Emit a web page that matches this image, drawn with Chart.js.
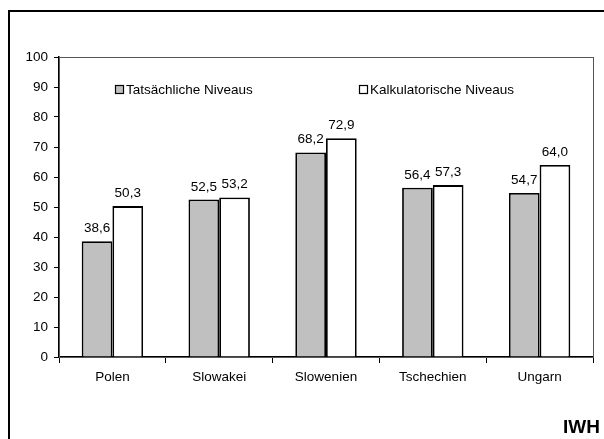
<!DOCTYPE html>
<html>
<head>
<meta charset="utf-8">
<script src="https://cdn.jsdelivr.net/npm/chart.js@4/dist/chart.umd.min.js"></script>
<style>
  html, body { margin: 0; padding: 0; background: #fff; }
  #wrap { position: relative; width: 604px; height: 439px; overflow: hidden; }
  #frame { position: absolute; left: 8px; top: 10px; width: 620px; height: 460px; border: 2px solid #000; box-sizing: border-box; }
  #c { position: absolute; left: 0; top: 0; }
  #iwh { position: absolute; left: 563px; top: 416px; font: bold 19px "Liberation Sans", Arial, sans-serif; color: #000; }
</style>
</head>
<body>
<div id="wrap">
  <div id="frame"></div>
  <canvas id="c" width="604" height="439"></canvas>
  <div id="iwh">IWH</div>
</div>
<script>
const categories = ["Polen", "Slowakei", "Slowenien", "Tschechien", "Ungarn"];
const seriesNames = ["Tatsächliche Niveaus", "Kalkulatorische Niveaus"];
const actualLevels = [38.6, 52.5, 68.2, 56.4, 54.7];
const calculatedLevels = [50.3, 53.2, 72.9, 57.3, 64.0];
const yTicks = [0, 10, 20, 30, 40, 50, 60, 70, 80, 90, 100];

const FONT = '"Liberation Sans", Arial, sans-serif';
const FS = 13.5;
const fmt = v => v.toFixed(1).replace('.', ',');

const framePlugin = {
  id: 'framePlugin',
  beforeDatasetsDraw(chart) {
    const { ctx, chartArea: a } = chart;
    ctx.save();
    ctx.strokeStyle = '#555';
    ctx.lineWidth = 1;
    ctx.strokeRect(a.left + 0.5, a.top + 0.5, a.right - a.left, a.bottom - a.top);
    ctx.restore();
  },
  afterDatasetsDraw(chart) {
    const { ctx, chartArea: a } = chart;
    ctx.save();
    ctx.font = FS + 'px ' + FONT;
    ctx.fillStyle = '#000';
    ctx.textAlign = 'center';
    ctx.textBaseline = 'alphabetic';
    chart.data.datasets.forEach((ds, di) => {
      chart.getDatasetMeta(di).data.forEach((bar, i) => {
        ctx.fillText(fmt(ds.data[i]), bar.x, bar.y - 9);
      });
    });
    const items = [
      { x: a.left + 56, label: seriesNames[0], fill: '#C0C0C0' },
      { x: a.left + 300, label: seriesNames[1], fill: '#FFFFFF' }
    ];
    ctx.textAlign = 'left';
    ctx.textBaseline = 'middle';
    items.forEach(it => {
      ctx.fillStyle = it.fill;
      ctx.fillRect(it.x, a.top + 28, 9, 9);
      ctx.strokeStyle = '#000';
      ctx.lineWidth = 1.2;
      ctx.strokeRect(it.x + 0.5, a.top + 28.5, 8, 8);
      ctx.fillStyle = '#000';
      ctx.fillText(it.label, it.x + 11, a.top + 33);
    });
    ctx.restore();
  }
};

new Chart(document.getElementById('c'), {
  type: 'bar',
  data: {
    labels: categories,
    datasets: [
      { label: seriesNames[0], data: actualLevels, backgroundColor: '#C0C0C0', borderColor: '#000', borderWidth: 1.8 },
      { label: seriesNames[1], data: calculatedLevels, backgroundColor: '#FFFFFF', borderColor: '#000', borderWidth: 1.8 }
    ]
  },
  options: {
    responsive: false,
    animation: false,
    devicePixelRatio: 1,
    layout: { padding: { left: 0, top: 57, right: 11, bottom: 0 } },
    datasets: { bar: { categoryPercentage: 0.575, barPercentage: 1.0 } },
    plugins: { legend: { display: false }, tooltip: { enabled: false } },
    scales: {
      x: {
        offset: true,
        afterFit(s) { s.height = 82; },
        grid: { offset: true, drawOnChartArea: false, color: '#000', tickLength: 6, tickWidth: 1 },
        border: { color: '#000', width: 1.5 },
        ticks: { color: '#000', font: { family: FONT, size: FS }, padding: 6, maxRotation: 0 }
      },
      y: {
        min: 0, max: 100,
        afterFit(s) { s.width = 59; },
        afterBuildTicks(s) { s.ticks = yTicks.map(v => ({ value: v })); },
        grid: { drawOnChartArea: false, color: '#000', tickLength: 5, tickWidth: 1 },
        border: { color: '#000', width: 1.5 },
        ticks: { color: '#000', font: { family: FONT, size: FS }, padding: 6 }
      }
    }
  },
  plugins: [framePlugin]
});
</script>
</body>
</html>
